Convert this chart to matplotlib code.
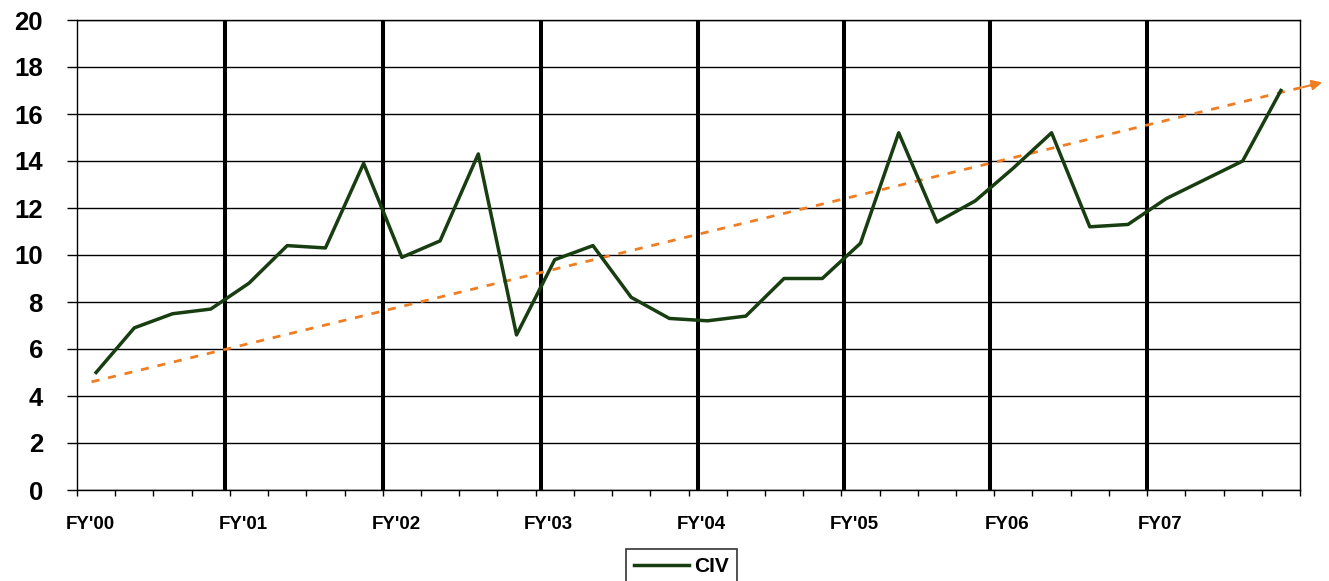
import matplotlib
matplotlib.use('Agg')
import matplotlib.pyplot as plt
import matplotlib.transforms as mtransforms
import numpy as np

plt.rcParams['font.family'] = ['Liberation Sans', 'DejaVu Sans']

# quarterly CIV values, FY'00 Q1 .. FY07 Q4
civ = [5.0, 6.9, 7.5, 7.7, 8.8, 10.4, 10.3, 13.9,
       9.9, 10.6, 14.3, 6.6, 9.8, 10.4, 8.2, 7.3,
       7.2, 7.4, 9.0, 9.0, 10.5, 15.2, 11.4, 12.3,
       13.7, 15.2, 11.2, 11.3, 12.4, 13.2, 14.0, 17.0]
year_labels = ["FY'00", "FY'01", "FY'02", "FY'03", "FY'04", "FY'05", "FY06", "FY07"]
# trend line end points (quarter index, value)
trend_x = [-0.12, 32.15]
trend_y = [4.6, 17.37]
# hand-drawn year separators (quarter index)
year_marks = [3.37, 7.51, 11.64, 15.75, 19.57, 23.39, 27.5]

green = '#173d10'
orange = '#ef7d22'

fig = plt.figure(figsize=(13.29, 5.81), dpi=100)
ax = fig.add_axes([77/1329, 1-490/581, (1300-77)/1329, (490-20)/581])

n = len(civ)
x = np.arange(n)
ax.set_xlim(-0.5, n-0.5)
ax.set_ylim(0, 20)
ax.set_yticks(range(0, 21, 2))
ax.yaxis.grid(True, color='black', lw=1.0)
ax.set_axisbelow(True)

for xm in year_marks:
    ax.axvline(xm, color='black', lw=2.9, zorder=2)

ax.plot(x, civ, color=green, lw=2.5, zorder=4, label='CIV')

ax.plot(trend_x, trend_y, color=orange, lw=2.0, dashes=(2.9, 3.2),
        clip_on=False, zorder=3)
dx = trend_x[1] - trend_x[0]
dy = trend_y[1] - trend_y[0]
ax.annotate('', xy=(trend_x[1], trend_y[1]),
            xytext=(trend_x[1] - 0.02*dx, trend_y[1] - 0.02*dy),
            arrowprops=dict(arrowstyle='-|>', color=orange, lw=1.5, mutation_scale=15),
            annotation_clip=False, zorder=3)

for s in ax.spines.values():
    s.set_color('black')
    s.set_linewidth(1.0)

# quarter boundary ticks, year labels every 4 quarters
ax.set_xticks(np.arange(-0.5, n, 1), minor=True)
ax.set_xticks(np.arange(0, n, 4))
ax.set_xticklabels(year_labels, fontsize=13.5, fontweight='bold')
ax.tick_params(axis='x', which='minor', length=4, width=1, direction='out')
ax.tick_params(axis='x', which='major', length=0, pad=19)
ax.tick_params(axis='y', length=7.5, width=1, direction='out', pad=17,
               labelsize=18.5)
for lab in ax.get_yticklabels():
    lab.set_fontweight('bold')
off = mtransforms.ScaledTranslation(-6/100, 0, fig.dpi_scale_trans)
for lab in ax.get_xticklabels():
    lab.set_transform(lab.get_transform() + off)

leg = fig.legend(loc='upper left', bbox_to_anchor=(626/1329, 1-549/581),
                 frameon=True, fancybox=False, edgecolor='black',
                 prop={'weight': 'bold', 'size': 15}, handlelength=2.6,
                 handletextpad=0.25, borderpad=0.4, borderaxespad=0)
leg.get_frame().set_linewidth(1.2)

fig.savefig('out.png', dpi=100, facecolor='white')
